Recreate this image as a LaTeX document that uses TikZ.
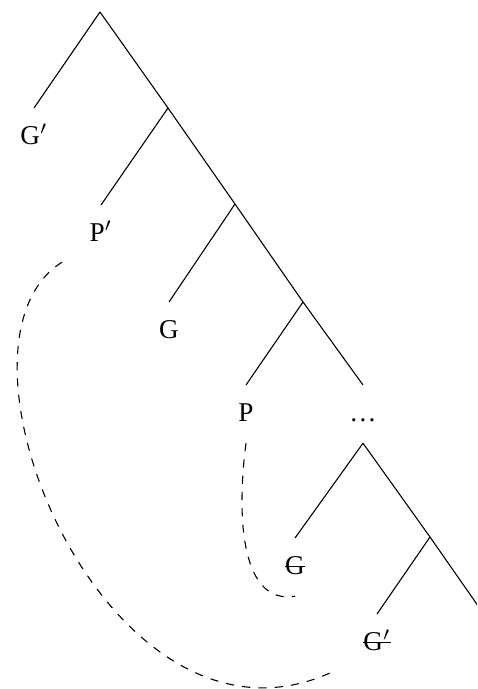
\documentclass[tikz,border=0pt]{standalone}
\usepackage{fontspec}
\setmainfont{Liberation Serif}
\usetikzlibrary{calc}
\newsavebox{\strikebox}
\newcommand{\struck}[1]{\sbox{\strikebox}{#1}\rlap{\rule[2.6pt]{\wd\strikebox}{0.4pt}}\usebox{\strikebox}}

\begin{document}
\begin{tikzpicture}[
  x=0.368pt, y=-0.368pt,
  leaf/.style={anchor=north, inner xsep=1pt, inner ysep=6.5pt, text height=6.62pt, text depth=1.4pt},
  move/.style={dashed},
]
  \clip (0,0) rectangle (477,689);
  % branching points
  \coordinate (r) at (100,12);
  \coordinate (b1) at (168,108);
  \coordinate (b2) at (235,204);
  \coordinate (b3) at (303,302);
  \coordinate (b5) at (430,537);
  \coordinate (b6) at (497,633);
  % labels
  \node[leaf] (gp1) at (34,108) {G$'$};
  \node[leaf] (pp) at (101,205) {P$'$};
  \node[leaf] (g1) at (169,302) {G};
  \node[leaf] (p1) at (246,385) {P};
  \node[leaf] (dots) at (363,385) {\dots};
  \node[leaf] (g2) at (295,538) {\struck{G}};
  \node[leaf] (gp2) at (377,614) {\struck{G$'$}};
  % branches
  \draw (r) -- (gp1.north);
  \draw (r) -- (b1);
  \draw (b1) -- (pp.north);
  \draw (b1) -- (b2);
  \draw (b2) -- (g1.north);
  \draw (b2) -- (b3);
  \draw (b3) -- (p1.north);
  \draw (b3) -- (dots.north);
  \draw (dots.south) -- (g2.north);
  \draw (dots.south) -- (b5);
  \draw (b5) -- (gp2.north);
  \draw (b5) -- (b6);
  % movement
  \draw[move] ($(pp.south)+(-39,-1)$) .. controls (-70,345) and (110,780) .. ($(gp2.south)+(-41,-2)$);
  \draw[move] (p1.south) .. controls (236,520) and (242,605) .. (g2.south);
\end{tikzpicture}
\end{document}
